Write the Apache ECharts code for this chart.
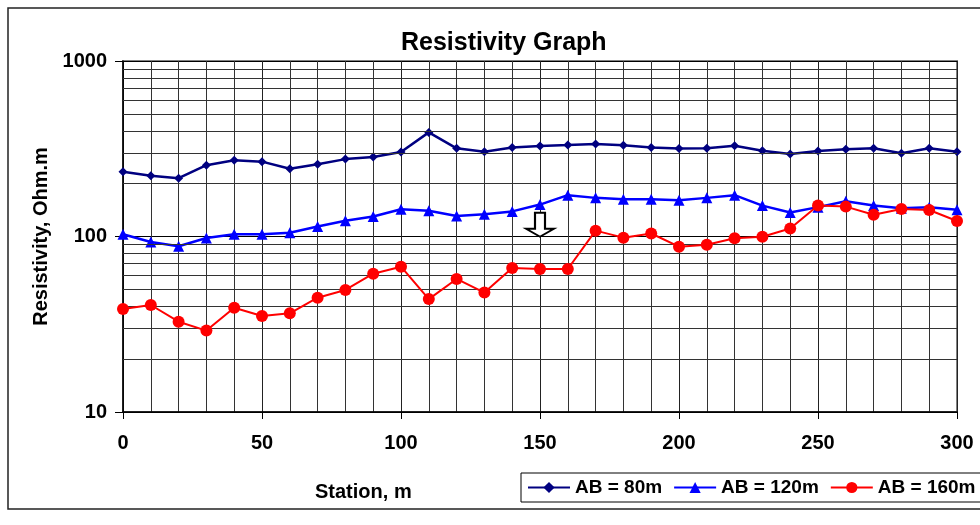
<!DOCTYPE html>
<html>
<head>
<meta charset="utf-8">
<script src="https://cdn.jsdelivr.net/npm/echarts@6/dist/echarts.min.js"></script>
<style>html,body{margin:0;padding:0;background:#fff;}#c{width:980px;height:525px;}</style>
</head>
<body>
<div id="c"></div>
<script>
const stations = [0,10,20,30,40,50,60,70,80,90,100,110,120,130,140,150,160,170,180,190,200,210,220,230,240,250,260,270,280,290,300];
const ab80  = [234,222,215,255,272,267,243,258,276,284,303,392,318,304,321,328,332,337,331,321,317,318,329,308,295,307,314,318,298,318,304];
const ab120 = [103,93,88,98,103,103,105,114,123,130,143,140,131,134,139,152,172,166,163,163,161,166,172,150,137,147,159,150,145,147,142];
const ab160 = [38.6,40.7,32.7,29.1,39.3,35.2,36.5,44.8,49.6,61.4,67.3,44,57.3,47.9,66.2,65.3,65.3,108,98.5,104,87.5,89.8,97.7,99.7,111,150,148,133,143.5,141.6,122.5];
const seriesNames = ['AB = 80m','AB = 120m','AB = 160m'];
const yMinorGrid = [20,30,40,50,60,70,80,90,200,300,400,500,600,700,800,900];
const arrowMark = [150, 116.7];

const FONT = 'Liberation Sans, Arial, sans-serif';
const pair = a => stations.map((s,i)=>[s,a[i]]);

const chart = echarts.init(document.getElementById('c'), null, {renderer:'canvas'});
chart.setOption({
  backgroundColor:'#fff',
  animation:false,
  title:{text:'Resistivity Graph', left:396, top:26,
    textStyle:{fontFamily:FONT, fontWeight:'bold', fontSize:25, color:'#000'}},
  grid:{left:123, right:23, top:61, bottom:113, show:true, borderColor:'#808080', borderWidth:2, backgroundColor:'#fff'},
  legend:{data:seriesNames, left:521, top:473, orient:'horizontal', width:600,
    padding:[5,8,5,6], itemGap:11, itemWidth:42, itemHeight:14,
    borderColor:'#000', borderWidth:1, backgroundColor:'#fff',
    textStyle:{fontFamily:FONT, fontWeight:'bold', fontSize:19, color:'#000'}},
  xAxis:{type:'value', min:0, max:300, interval:50,
    axisLine:{lineStyle:{color:'#000', width:1.5}},
    axisTick:{show:true, inside:false, length:7, lineStyle:{color:'#000'}},
    axisLabel:{margin:21, fontFamily:FONT, fontWeight:'bold', fontSize:20, color:'#000'},
    splitLine:{show:true, lineStyle:{color:'#222', width:1}},
    minorTick:{show:false, splitNumber:5},
    minorSplitLine:{show:true, lineStyle:{color:'#333', width:1}}},
  yAxis:{type:'log', logBase:10, min:10, max:1000,
    name:'Resistivity, Ohm.m', nameLocation:'middle', nameGap:68,
    nameTextStyle:{fontFamily:FONT, fontWeight:'bold', fontSize:20, color:'#000'},
    axisLine:{show:true, lineStyle:{color:'#000', width:1.5}},
    axisTick:{show:true, inside:false, length:8, lineStyle:{color:'#000'}},
    axisLabel:{margin:16, fontFamily:FONT, fontWeight:'bold', fontSize:20, color:'#000',
      formatter: v => String(Math.round(v))},
    splitLine:{show:true, lineStyle:{color:'#000', width:1}}},
  graphic:[
    {type:'rect', silent:true, z:-10, shape:{x:8, y:8, width:1000, height:501},
      style:{fill:'none', stroke:'#222', lineWidth:1.5}},
    {type:'text', silent:true, style:{x:315, y:492, text:'Station, m', verticalAlign:'middle',
      font:'bold 20px ' + FONT, fill:'#000'}}
  ],
  series:[
    {name:'grid-minor', type:'line', data:[], z:1, silent:true,
      markLine:{silent:true, symbol:['none','none'], label:{show:false},
        lineStyle:{color:'#333', width:1, type:'solid'},
        data:yMinorGrid.map(v=>({yAxis:v}))}},
    {name:seriesNames[0], type:'line', data:pair(ab80), z:3,
      symbol:'diamond', symbolSize:9, color:'#000080',
      lineStyle:{width:2.5, color:'#000080'}, itemStyle:{color:'#000080'}},
    {name:seriesNames[1], type:'line', data:pair(ab120), z:4,
      symbol:'triangle', symbolSize:11, color:'#0000FF',
      lineStyle:{width:2.5, color:'#0000FF'}, itemStyle:{color:'#0000FF'}},
    {name:seriesNames[2], type:'line', data:pair(ab160), z:5,
      symbol:'circle', symbolSize:12, color:'#FF0000',
      lineStyle:{width:2, color:'#FF0000'}, itemStyle:{color:'#FF0000'}},
    {name:'arrow', type:'line', data:[], z:6, silent:true,
      markPoint:{silent:true, symbol:'path://M9,0 L19,0 L19,16 L28,16 L14,24 L0,16 L9,16 Z',
        symbolSize:[28,24], label:{show:false},
        itemStyle:{color:'#fff', borderColor:'#000', borderWidth:2},
        data:[{coord:arrowMark}]}}
  ]
});
</script>
</body>
</html>
